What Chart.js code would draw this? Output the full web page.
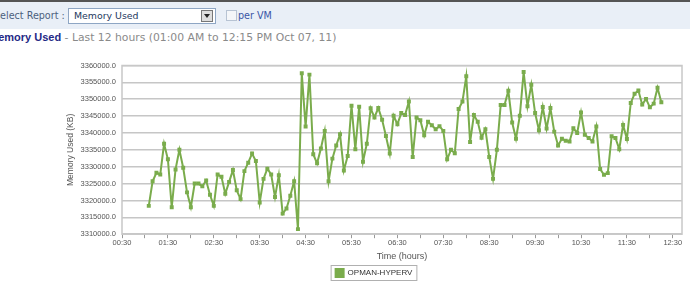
<!DOCTYPE html>
<html lang="en">
<head>
<meta charset="UTF-8">
<title>Memory Used</title>
<script src="https://cdn.jsdelivr.net/npm/chart.js@4.4.1/dist/chart.umd.min.js"></script>
<style>
  body { margin:0; width:690px; height:285px; overflow:hidden; background:#fff; position:relative; font-family:"DejaVu Sans", Verdana, sans-serif; }
  #barra { position:absolute; left:0; top:0; width:690px; height:27px; border-top:2px solid #555; background:#e9eff7; }
  #etiqueta { position:absolute; left:-6px; top:10px; font-size:9.6px; color:#4c5f7e; }
  #selector { position:absolute; left:68px; top:8px; width:141px; height:14px; border:1px solid #8ea6c4; background:#fff; font-size:9.4px; color:#24385e; line-height:14px; padding-left:5px; box-sizing:content-box; }
  #flecha { position:absolute; right:2px; top:1px; width:10px; height:10px; border:1px solid #777; background:#ddd; }
  #flecha:after { content:""; position:absolute; left:2px; top:3px; border-left:3px solid transparent; border-right:3px solid transparent; border-top:4px solid #222; }
  #check { position:absolute; left:226px; top:10px; width:9px; height:9px; border:1px solid #b7c3d3; background:#f4f6f9; }
  #porvm { position:absolute; left:238px; top:10px; font-size:9.6px; color:#3a55a6; }
  #subtitulo { position:absolute; left:-11px; top:31px; font-size:10.8px; color:#8a8a8a; white-space:nowrap; }
  #subtitulo b { color:#1f2a86; font-family:"Liberation Sans", Arial, sans-serif; font-size:11px; }
  #lienzo { position:absolute; left:0; top:55px; }
</style>
</head>
<body>
<div id="barra"></div>
<div id="etiqueta">Select Report :</div>
<div id="selector">Memory Used<div id="flecha"></div></div>
<div id="check"></div>
<div id="porvm">per VM</div>
<div id="subtitulo"><b>Memory Used</b> - Last 12 hours (01:00 AM to 12:15 PM Oct 07, 11)</div>
<canvas id="lienzo" width="690" height="234"></canvas>

<script>
  // serie: memoria usada (KB) cada 5 minutos desde la 01:05
  const serie = 'OPMAN-HYPERV';
  const horaInicio = 1 + 5 / 60;
  const pasoHoras = 5 / 60;
  const valores = [
    3318400, 3325700, 3328200, 3327700, 3336800, 3332200, 3318000, 3329200, 3335000, 3329700,
    3322400, 3318000, 3325000, 3325000, 3324200, 3325900, 3321700, 3318400, 3327700, 3327000,
    3322000, 3325500, 3329000, 3323000, 3320400, 3328700, 3331200, 3333900, 3331700, 3319400,
    3326400, 3329400, 3327700, 3321000, 3327500, 3316100, 3317600, 3321400, 3325700, 3311500,
    3357700, 3341900, 3357300, 3333700, 3331000, 3335400, 3340600, 3325700, 3332400, 3336300,
    3339600, 3328900, 3333200, 3348100, 3335200, 3347800, 3331500, 3336800, 3347300, 3344600,
    3347400, 3343900, 3339100, 3333900, 3345100, 3342600, 3345900, 3345300, 3349300, 3332900,
    3344600, 3343800, 3339300, 3343300, 3342300, 3341100, 3342000, 3340600, 3332200, 3335000,
    3334000, 3347100, 3349300, 3356800, 3337300, 3345300, 3343300, 3338600, 3341100, 3332900,
    3326400, 3335000, 3348300, 3348300, 3352500, 3343100, 3338300, 3345100, 3358100, 3347900,
    3354300, 3345900, 3340800, 3347700, 3341300, 3347400, 3340400, 3336300, 3338300, 3337700,
    3337500, 3341400, 3340000, 3346100, 3339500, 3338500, 3337500, 3341900, 3329300, 3327600,
    3328100, 3339000, 3338500, 3335200, 3342400, 3338200, 3348900, 3351600, 3352600, 3348400,
    3350100, 3347600, 3348700, 3353400, 3349100
  ];
  const ejeY = { min: 3310000, max: 3360000, paso: 5000 };
  const ejeX = { min: 0.5, max: 12.7, ultimaMarca: 12.5, paso: 0.5 };

  const puntos = valores.map((v, i) => ({ x: horaInicio + i * pasoHoras, y: v }));

  // marco gris del area de trazado y caja de la leyenda
  const marco = {
    id: 'marco',
    afterDraw(chart) {
      const ctx = chart.ctx;
      const a = chart.chartArea;
      ctx.save();
      ctx.strokeStyle = '#c8c8c8';
      ctx.lineWidth = 1.5;
      ctx.strokeRect(a.left, a.top, a.right - a.left, a.bottom - a.top);
      const hb = chart.legend.legendHitBoxes[0];
      if (hb) {
        ctx.strokeStyle = '#b0b0b0';
        ctx.lineWidth = 1;
        ctx.strokeRect(hb.left - 4.5, hb.top - 3.5, hb.width + 9, hb.height + 7);
      }
      ctx.restore();
    }
  };

  new Chart(document.getElementById('lienzo'), {
    type: 'line',
    data: {
      datasets: [{
        label: serie,
        data: puntos,
        borderColor: '#7aac4c',
        backgroundColor: '#7aac4c',
        borderWidth: 2,
        pointStyle: 'rect',
        pointRadius: 2.8,
        pointBorderWidth: 0,
        tension: 0
      }]
    },
    options: {
      responsive: false,
      animation: false,
      layout: { padding: { left: 66, right: 8, top: 7, bottom: 2 } },
      plugins: {
        tooltip: { enabled: false },
        legend: {
          position: 'bottom',
          labels: { boxWidth: 8, boxHeight: 8, padding: 3, color: '#333', font: { family: 'Liberation Sans', size: 8 } }
        }
      },
      scales: {
        x: {
          type: 'linear',
          min: ejeX.min,
          max: ejeX.max,
          border: { display: false },
          grid: { drawOnChartArea: false, drawTicks: true, tickLength: 4, color: '#999' },
          afterBuildTicks: s => {
            const marcas = [];
            for (let t = ejeX.min; t <= ejeX.ultimaMarca + 0.001; t += ejeX.paso) marcas.push({ value: t });
            s.ticks = marcas;
          },
          ticks: {
            autoSkip: false,
            maxRotation: 0,
            padding: 0,
            color: '#555',
            font: { family: 'Liberation Sans', size: 7.5 },
            callback: v => {
              const h = Math.floor(v);
              return Math.abs(v - h - 0.5) < 0.01 ? String(h).padStart(2, '0') + ':30' : '';
            }
          },
          title: { display: true, text: 'Time (hours)', color: '#555', padding: { top: 4, bottom: 4 }, font: { family: 'Liberation Sans', size: 9 } }
        },
        y: {
          min: ejeY.min,
          max: ejeY.max,
          border: { display: false },
          grid: { color: '#c6c6c6', lineWidth: 1.5, drawTicks: false },
          ticks: {
            stepSize: ejeY.paso,
            padding: 6,
            color: '#555',
            font: { family: 'Liberation Sans', size: 7.5 },
            callback: v => v.toFixed(1)
          },
          title: { display: true, text: 'Memory Used (KB)', color: '#555', padding: 0, font: { family: 'Liberation Sans', size: 8.5 } },
          afterFit: s => { s.width = 56; }
        }
      }
    },
    plugins: [marco]
  });
</script>
</body>
</html>
